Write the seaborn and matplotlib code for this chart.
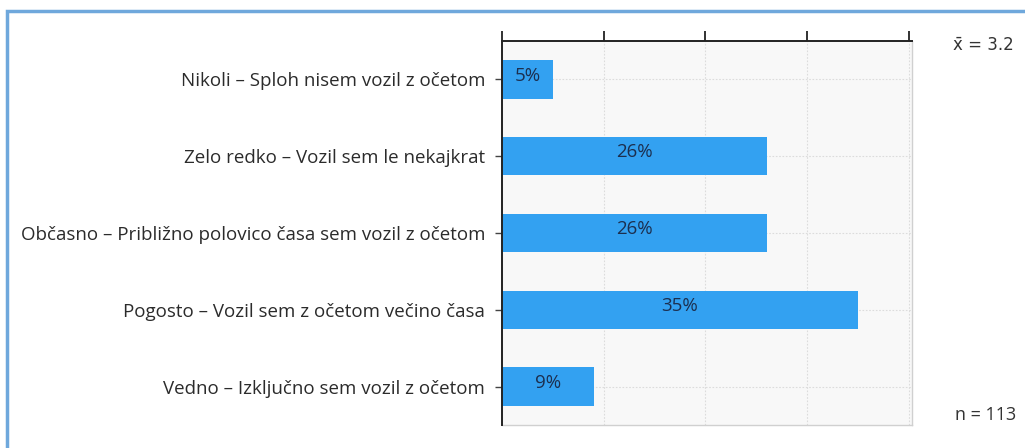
import pandas as pd
import numpy as np
import matplotlib.pyplot as plt
import seaborn as sns
from matplotlib.patches import Rectangle

# answers and shares (percent)
categories = ['Nikoli – Sploh nisem vozil z očetom',
              'Zelo redko – Vozil sem le nekajkrat',
              'Občasno – Približno polovico časa sem vozil z očetom',
              'Pogosto – Vozil sem z očetom večino časa',
              'Vedno – Izključno sem vozil z očetom']
shares = [5, 26, 26, 35, 9]
mean_text = 'x\u0304 = 3.2'
n_text = 'n = 113'

df = pd.DataFrame({'answer': categories, 'share': shares})

sns.set_theme(style='white')
plt.rcParams['font.family'] = ['Open Sans', 'DejaVu Sans']

fig = plt.figure(figsize=(10.25, 4.48), dpi=100)
ax = fig.add_axes([502/1025, 1-425/448, 410/1025, 384/448])
ax.set_facecolor('#f8f8f8')

sns.barplot(data=df, y='answer', x='share', color='#33a1f1', width=0.5,
            saturation=1, linewidth=0, ax=ax, zorder=3)

# value labels inside the bars
for i, v in enumerate(shares):
    ax.text(v/2, i - 0.05, f'{v}%', ha='center', va='center',
            fontsize=13.5, color='#1c2f4f', zorder=4)

ax.set_xlim(0, 40.3)
ax.set_ylim(4.5, -0.5)
ax.set_xticks([0, 10, 20, 30, 40])
ax.xaxis.tick_top()
ax.tick_params(axis='x', direction='out', length=7, width=1.3, color='#222',
               labeltop=False, top=True, bottom=False)
ax.tick_params(axis='y', direction='out', length=5, width=1, color='#444',
               labelsize=13.5, labelcolor='#2b2b2b', pad=7, left=True)
ax.set_xlabel('')
ax.set_ylabel('')

ax.grid(True, color='#dcdcdc', linestyle=(0, (1.5, 1.5)), linewidth=0.8, zorder=0)

for side in ['top', 'left']:
    ax.spines[side].set_color('#222')
    ax.spines[side].set_linewidth(1.4)
    ax.spines[side].set_zorder(5)
for side in ['right', 'bottom']:
    ax.spines[side].set_color('#d0d0d0')
    ax.spines[side].set_linewidth(1)

fig.text(953/1025, 1-45/448, mean_text, fontsize=12, color='#333',
         va='center', ha='left', family=['DejaVu Sans'])
fig.text(955/1025, 1-415/448, n_text, fontsize=13, color='#333',
         va='center', ha='left')

# light blue frame around the picture
fig.patches.append(Rectangle((7/1025, -0.1), 1.2, 1 - 11/448 + 0.1,
                             transform=fig.transFigure, fill=False,
                             edgecolor='#6fa8dc', linewidth=2.5))

plt.savefig('out.png', dpi=100)
